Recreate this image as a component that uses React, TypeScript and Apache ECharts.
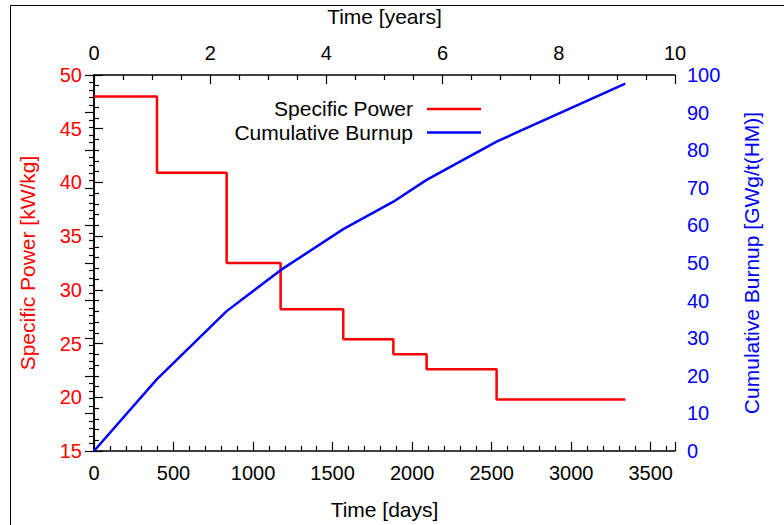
import React, { useEffect, useRef } from "react";
import * as echarts from "echarts";

// Step boundaries (days) and values
const stepDays = [0, 396, 834, 1173, 1567, 1882, 2091, 2531, 3340];
const specificPower = [48, 40.9, 32.5, 28.2, 25.4, 24.0, 22.6, 19.8, 19.8];
const cumulativeBurnup = [0, 19.1, 37.2, 48.1, 59.0, 66.3, 72.1, 82.3, 97.7];

const seriesNames = ["Specific Power", "Cumulative Burnup"];
const seriesColors = ["#ff0000", "#0000ff"];

const DAYS_MAX = 3652.5;
const YEARS_MAX = 10;

const FONT = "'Liberation Sans', Arial, Helvetica, sans-serif";

export default function App() {
  const ref = useRef<HTMLDivElement>(null);

  useEffect(() => {
    if (!ref.current) return;
    const chart = echarts.init(ref.current, undefined, { renderer: "svg" });

    const powerData = stepDays.map((d, i) => [d, specificPower[i]]);
    const burnupData = stepDays.map((d, i) => [d, cumulativeBurnup[i]]);

    const axisLine = { show: true, lineStyle: { color: "#000", width: 1.5 } };
    const axisTick = { show: true, inside: true, length: 9, lineStyle: { color: "#000", width: 1.2 } };
    const minorTick = (n: number) => ({
      show: true,
      splitNumber: n,
      length: 5,
      lineStyle: { color: "#000", width: 1.2 },
    });
    const labelBase = { fontSize: 20, fontFamily: FONT, margin: 12 };
    const nameFont = 21;

    const option: any = {
      animation: false,
      backgroundColor: "#fff",
      textStyle: { fontFamily: FONT },
      grid: { left: 94, top: 75, width: 581, height: 376, containLabel: false, show: false },
      xAxis: [
        {
          type: "value",
          position: "bottom",
          min: 0,
          max: DAYS_MAX,
          interval: 500,
          axisLine,
          axisTick,
          minorTick: minorTick(5),
          splitLine: { show: false },
          axisLabel: {
            ...labelBase,
            color: "#000",
            showMaxLabel: false,
            formatter: (v: number) => (v % 500 === 0 ? String(v) : ""),
          },
          name: "Time [days]",
          nameLocation: "middle",
          nameGap: 48,
          nameTextStyle: { fontSize: nameFont, fontFamily: FONT, color: "#000" },
        },
        {
          type: "value",
          position: "top",
          min: 0,
          max: YEARS_MAX,
          interval: 2,
          axisLine,
          axisTick,
          minorTick: minorTick(4),
          splitLine: { show: false },
          axisLabel: { ...labelBase, color: "#000", formatter: (v: number) => String(v) },
          name: "Time [years]",
          nameLocation: "middle",
          nameGap: 48,
          nameTextStyle: { fontSize: nameFont, fontFamily: FONT, color: "#000" },
        },
      ],
      yAxis: [
        {
          type: "value",
          position: "left",
          min: 15,
          max: 50,
          interval: 5,
          axisLine,
          axisTick,
          minorTick: minorTick(5),
          splitLine: { show: false },
          axisLabel: { ...labelBase, color: seriesColors[0] },
          name: "Specific Power [kW/kg]",
          nameLocation: "middle",
          nameGap: 56,
          nameTextStyle: { fontSize: nameFont, fontFamily: FONT, color: seriesColors[0] },
        },
        {
          type: "value",
          position: "right",
          min: 0,
          max: 100,
          interval: 10,
          axisLine,
          axisTick,
          minorTick: minorTick(5),
          splitLine: { show: false },
          axisLabel: { ...labelBase, color: seriesColors[1] },
          name: "Cumulative Burnup [GWg/t(HM)]",
          nameLocation: "middle",
          nameGap: 66,
          nameTextStyle: { fontSize: nameFont, fontFamily: FONT, color: seriesColors[1] },
        },
      ],
      series: [
        {
          name: seriesNames[0],
          type: "line",
          xAxisIndex: 0,
          yAxisIndex: 0,
          step: "end",
          data: powerData,
          symbol: "none",
          lineStyle: { color: seriesColors[0], width: 2.5 },
          itemStyle: { color: seriesColors[0] },
          z: 3,
        },
        {
          name: seriesNames[1],
          type: "line",
          xAxisIndex: 0,
          yAxisIndex: 1,
          data: burnupData,
          symbol: "none",
          lineStyle: { color: seriesColors[1], width: 2.5 },
          itemStyle: { color: seriesColors[1] },
          z: 3,
        },
      ],
      graphic: [
        // figure frame (cropped border)
        { type: "line", shape: { x1: 10.5, y1: 5.5, x2: 784, y2: 5.5 }, style: { stroke: "#000", lineWidth: 1 } },
        { type: "line", shape: { x1: 10.5, y1: 5.5, x2: 10.5, y2: 525 }, style: { stroke: "#000", lineWidth: 1 } },
        // legend
        {
          type: "text",
          x: 413,
          y: 108.5,
          style: { text: seriesNames[0], fill: "#000", font: `${nameFont}px ${FONT}`, textAlign: "right", textVerticalAlign: "middle" },
        },
        { type: "line", shape: { x1: 427, y1: 109, x2: 481, y2: 109 }, style: { stroke: seriesColors[0], lineWidth: 2.5 } },
        {
          type: "text",
          x: 413,
          y: 132,
          style: { text: seriesNames[1], fill: "#000", font: `${nameFont}px ${FONT}`, textAlign: "right", textVerticalAlign: "middle" },
        },
        { type: "line", shape: { x1: 427, y1: 132.5, x2: 481, y2: 132.5 }, style: { stroke: seriesColors[1], lineWidth: 2.5 } },
      ],
    };

    chart.setOption(option);
    return () => chart.dispose();
  }, []);

  return (
    <div
      ref={ref}
      style={{ position: "absolute", left: 0, top: 0, width: 784, height: 525, background: "#fff" }}
    />
  );
}
